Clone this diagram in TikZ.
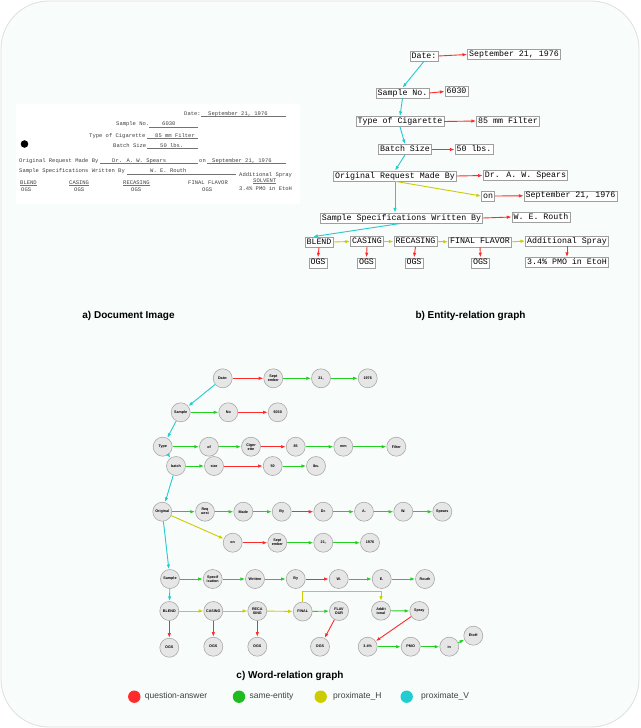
\documentclass[tikz,border=0pt]{standalone}
\usepackage{fontspec}
\setmainfont{Liberation Sans}
\newfontfamily\monof{Liberation Mono}
\usetikzlibrary{arrows.meta}
\definecolor{qred}{HTML}{FF2B2B}
\definecolor{qgreen}{HTML}{22D022}
\definecolor{qyellow}{HTML}{CCCC00}
\definecolor{qcyan}{HTML}{22CCD0}
\definecolor{bgmint}{HTML}{F8FCFB}
\definecolor{wnfill}{HTML}{E6E6E6}
\definecolor{wnline}{HTML}{A8A8A8}
\begin{document}
\begin{tikzpicture}[x=1pt,y=-1pt,
  erbox/.style={draw=gray!75, line width=0.6pt, fill=white, inner xsep=1.6pt, inner ysep=1.3pt,
    font=\monof\fontsize{8.3}{9}\selectfont, text height=5.8pt, text depth=1.6pt},
  wn/.style={circle, draw=wnline, fill=wnfill, line width=0.6pt, minimum size=19pt, inner sep=0pt,
    font=\bfseries\fontsize{3.7}{4}\selectfont, align=center},
  ar/.style={-{Latex[length=4.8pt,width=3.4pt]}, line width=0.9pt},
  qa/.style={ar, qred}, se/.style={ar, qgreen}, ph/.style={ar, qyellow}, pv/.style={ar, qcyan},
  doct/.style={anchor=base west, inner sep=0pt, font=\monof\fontsize{5.5}{6}\selectfont, text=black!75},
  docl/.style={black!55, line width=0.4pt},
  captxt/.style={font=\bfseries\fontsize{10}{12}\selectfont},
  legt/.style={anchor=west, font=\fontsize{8.5}{10}\selectfont, text=black!75}
]
\useasboundingbox (0,0) rectangle (640,728);
\fill[white] (0,0) rectangle (640,728);
\draw[draw=gray!25, fill=bgmint, line width=0.8pt, rounded corners=48pt] (1,1) rectangle (639,727);

% ---------------- a) Document image ----------------
\fill[white] (16,104) rectangle (300,204);
\node[doct] (d1) at (184,115) {Date:};
\draw[docl] (201,116.5) -- (286,116.5);
\node[doct] (d1v) at (208,115) {September 21, 1976};
\node[doct] (d2) at (116,125.5) {Sample No.};
\draw[docl] (149,127) -- (198,127);
\node[doct] (d2v) at (162,125.5) {6030};
\node[doct] (d3) at (89,137) {Type of Cigarette};
\draw[docl] (147,138.5) -- (198,138.5);
\node[doct] (d3v) at (155,137) {85 mm Filter};
\node[doct] (d4) at (113,147) {Batch Size};
\draw[docl] (147,148.5) -- (198,148.5);
\node[doct] (d4v) at (160,147) {50 lbs.};
\fill[black] (24.5,144) circle (3.8);
\node[doct] (d5) at (19,162) {Original Request Made By};
\draw[docl] (100,163.5) -- (198,163.5);
\node[doct] (d5v) at (112,162) {Dr. A. W. Spears};
\node[doct] (d5o) at (199,162) {on};
\draw[docl] (207,163.5) -- (286,163.5);
\node[doct] (d5w) at (212,162) {September 21, 1976};
\node[doct] (d6) at (19,172.5) {Sample Specifications Written By};
\draw[docl] (127,174) -- (236,174);
\node[doct] (d6v) at (150,172.5) {W. E. Routh};
\node[doct] (d7) at (239,176) {Additional Spray};
\node[doct] (b1) at (20,184) {BLEND};
\draw[docl] (20,185.5) -- (36.5,185.5);
\node[doct] (b2) at (69,184) {CASING};
\draw[docl] (69,185.5) -- (89,185.5);
\node[doct] (b3) at (123,184) {RECASING};
\draw[docl] (123,185.5) -- (150,185.5);
\node[doct] (b4) at (188,184) {FINAL FLAVOR};
\node[doct] (b5) at (253,182) {SOLVENT};
\draw[docl] (253,183.5) -- (276,183.5);
\node[doct] (o1) at (21,191.5) {OGS};
\node[doct] (o2) at (74,191.5) {OGS};
\node[doct] (o3) at (131,191.5) {OGS};
\node[doct] (o4) at (202,191.5) {OGS};
\node[doct] (o5) at (239,190.5) {3.4\% PMO in EtoH};

\node[captxt] (capa) at (128.5,316) {a) Document Image};
\node[captxt] (capb) at (470.5,316) {b) Entity-relation graph};
\node[captxt] (capc) at (290,676) {c) Word-relation graph};

% ---------------- b) Entity-relation graph ----------------
\node[erbox] (eDate) at (424,56) {Date:};
\node[erbox] (eSept1) at (514,54.5) {September 21, 1976};
\node[erbox] (eSampleNo) at (402.5,93) {Sample No.};
\node[erbox] (e6030) at (456.5,91.5) {6030};
\node[erbox] (eType) at (400,121.5) {Type of Cigarette};
\node[erbox] (e85) at (508,121) {85 mm Filter};
\node[erbox] (eBatch) at (405,149.5) {Batch Size};
\node[erbox] (e50) at (474,149.5) {50 lbs.};
\node[erbox] (eOrig) at (395,176) {Original Request Made By};
\node[erbox] (eSpears) at (525.5,175.5) {Dr. A. W. Spears};
\node[erbox] (eOn) at (488,196) {on};
\node[erbox] (eSept2) at (570.5,195.8) {September 21, 1976};
\node[erbox] (eSpec) at (401.5,218) {Sample Specifications Written By};
\node[erbox] (eRouth) at (541,217) {W. E. Routh};
\node[erbox] (eBlend) at (319,242) {BLEND};
\node[erbox] (eCasing) at (367,241.5) {CASING};
\node[erbox] (eRecasing) at (415.5,241.5) {RECASING};
\node[erbox] (eFinal) at (480,241.8) {FINAL FLAVOR};
\node[erbox] (eAddit) at (567,241) {Additional Spray};
\node[erbox] (eOgs1) at (318,262.8) {OGS};
\node[erbox] (eOgs2) at (366.5,262.8) {OGS};
\node[erbox] (eOgs3) at (414,262.8) {OGS};
\node[erbox] (eOgs4) at (480.5,262.8) {OGS};
\node[erbox] (ePmo) at (567,262.5) {3.4\% PMO in EtoH};

\draw[qa] (eDate.east) -- (eSept1.west);
\draw[qa] (eSampleNo.east) -- (e6030.west);
\draw[qa] (eType.east) -- (e85.west);
\draw[qa] (eBatch.east) -- (e50.west);
\draw[qa] (eOrig.east) -- (eSpears.west);
\draw[qa] (eOn.east) -- (eSept2.west);
\draw[qa] (eSpec.east) -- (eRouth.west);
\draw[pv] (eDate.south) -- (eSampleNo.north);
\draw[pv] (eSampleNo.south) -- (eType.north);
\draw[pv] (eType.south) -- (eBatch.north);
\draw[pv] (eBatch.south) -- (eOrig.north);
\draw[pv] (eOrig.south) -- (eOrig.south |- eSpec.north);
\draw[ph] (eOrig.south) -- (eOn.west);
\draw[pv] (eSpec.south) -- ([xshift=-6pt]eBlend.north);
\draw[ph] (eBlend.east) -- (eCasing.west);
\draw[ph] (eCasing.east) -- (eRecasing.west);
\draw[ph] (eRecasing.east) -- (eFinal.west);
\draw[ph] (eFinal.east) -- (eAddit.west);
\draw[qa] (eBlend.south) -- (eOgs1.north);
\draw[qa] (eCasing.south) -- (eOgs2.north);
\draw[qa] (eRecasing.south) -- (eOgs3.north);
\draw[qa] (eFinal.south) -- (eOgs4.north);
\draw[qa] (eAddit.south) -- (ePmo.north);

% ---------------- c) Word-relation graph ----------------
\node[wn] (wDate) at (222.7,378.3) {Date:};
\node[wn] (wSept1) at (273.3,378.3) {Sept\\ember};
\node[wn] (w21a) at (321,378.3) {21,};
\node[wn] (w1976a) at (367.7,378.3) {1976};
\node[wn] (wSample1) at (180.7,412.3) {Sample};
\node[wn] (wNo) at (228.3,412.3) {No};
\node[wn] (w6030) at (277.7,412.3) {6030};
\node[wn] (wType) at (162.7,446.7) {Type};
\node[wn] (wOf) at (209,446.7) {of};
\node[wn] (wCig) at (251,446.7) {Ciger\\ette};
\node[wn] (w85) at (295.7,446.7) {85};
\node[wn] (wmm) at (343.3,446.7) {mm};
\node[wn] (wFilter) at (396.3,446.7) {Filter};
\node[wn] (wBatch) at (176,466) {batch};
\node[wn] (wSize) at (214,466) {size};
\node[wn] (w50) at (272.7,466) {50};
\node[wn] (wLbs) at (316,466) {lbs.};
\node[wn] (wOrig) at (162.3,511.7) {Original};
\node[wn] (wReq) at (205,511.7) {Req\\uest};
\node[wn] (wMade) at (243.3,511.7) {Made};
\node[wn] (wBy1) at (281.7,511.7) {By};
\node[wn] (wDr) at (323.3,511.7) {Dr.};
\node[wn] (wA) at (364,511.7) {A.};
\node[wn] (wW1) at (403.3,511.7) {W.};
\node[wn] (wSpears) at (442.3,511.7) {Spears};
\node[wn] (wOn) at (232.7,542.7) {on};
\node[wn] (wSept2) at (277.3,542.7) {Sept\\ember};
\node[wn] (w21b) at (323.3,542.7) {21,};
\node[wn] (w1976b) at (370,542.7) {1976};
\node[wn] (wSample2) at (170,579) {Sample};
\node[wn] (wSpec) at (212.7,579) {Specif\\ication};
\node[wn] (wWritten) at (255,579) {Written};
\node[wn] (wBy2) at (295.7,579) {By};
\node[wn] (wW2) at (338.7,579) {W.};
\node[wn] (wE) at (381.7,579) {E.};
\node[wn] (wRouth) at (425,579) {Routh};
\node[wn] (wBlend) at (169.3,611) {BLEND};
\node[wn] (wCasing) at (213.3,611) {CASING};
\node[wn] (wRecasing) at (257.3,611) {RECA\\SING};
\node[wn] (wFinal) at (302.7,611.5) {FINAL};
\node[wn] (wFlavour) at (339,611) {FLAV\\OUR};
\node[wn] (wAddit) at (381,610.7) {Addit\\ional};
\node[wn] (wSpray) at (419.3,611) {Spray};
\node[wn] (wEtoh) at (473.3,635.7) {EtoH};
\node[wn] (wOgs1) at (169.3,647.7) {OGS};
\node[wn] (wOgs2) at (213.3,646.7) {OGS};
\node[wn] (wOgs3) at (257.3,646.7) {OGS};
\node[wn] (wOgs4) at (320,646.7) {OGS};
\node[wn] (w34) at (367.7,646.7) {3.4\%};
\node[wn] (wPmo) at (410.7,646.7) {PMO};
\node[wn] (wIn) at (449.3,646.7) {in};

\draw[qa] (wDate) -- (wSept1);
\draw[se] (wSept1) -- (w21a);
\draw[se] (w21a) -- (w1976a);
\draw[pv] (wDate) -- (wSample1);
\draw[se] (wSample1) -- (wNo);
\draw[qa] (wNo) -- (w6030);
\draw[pv] (wSample1) -- (wType);
\draw[se] (wType) -- (wOf);
\draw[se] (wOf) -- (wCig);
\draw[qa] (wCig) -- (w85);
\draw[se] (w85) -- (wmm);
\draw[se] (wmm) -- (wFilter);
\draw[pv] (wType) -- (wBatch);
\draw[se] (wBatch) -- (wSize);
\draw[qa] (wSize) -- (w50);
\draw[se] (w50) -- (wLbs);
\draw[pv] (wBatch) -- (wOrig);
\draw[se] (wOrig) -- (wReq);
\draw[se] (wReq) -- (wMade);
\draw[se] (wMade) -- (wBy1);
\draw[qa] (wBy1) -- (wDr);
\draw[se] (wDr) -- (wA);
\draw[se] (wA) -- (wW1);
\draw[se] (wW1) -- (wSpears);
\draw[ph] (wOrig) -- (wOn);
\draw[qa] (wOn) -- (wSept2);
\draw[se] (wSept2) -- (w21b);
\draw[se] (w21b) -- (w1976b);
\draw[pv] (wOrig) -- (wSample2);
\draw[se] (wSample2) -- (wSpec);
\draw[se] (wSpec) -- (wWritten);
\draw[se] (wWritten) -- (wBy2);
\draw[qa] (wBy2) -- (wW2);
\draw[se] (wW2) -- (wE);
\draw[se] (wE) -- (wRouth);
\draw[pv] (wSample2) -- (wBlend);
\draw[ph] (wBlend) -- (wCasing);
\draw[ph] (wCasing) -- (wRecasing);
\draw[ph] (wRecasing) -- (wFinal);
\draw[se] (wFinal) -- (wFlavour);
\draw[ph] (wFinal.north) -- ++(0,-10) -| (wAddit.north);
\draw[se] (wAddit) -- (wSpray);
\draw[qa] (wBlend) -- (wOgs1);
\draw[qa] (wCasing) -- (wOgs2);
\draw[qa] (wRecasing) -- (wOgs3);
\draw[qa] (wFlavour) -- (wOgs4);
\draw[qa] (wSpray) -- (w34);
\draw[se] (w34) -- (wPmo);
\draw[se] (wPmo) -- (wIn);
\draw[se] (wIn) -- (wEtoh);

% ---------------- legend ----------------
\fill[qred] (134.3,696.7) circle (6.2) node[legt, right=7pt] (l1) {question-answer};
\fill[qgreen!90!black] (239,696.7) circle (6.2) node[legt, right=7pt] (l2) {same-entity};
\fill[qyellow] (320.7,696.7) circle (6.2) node[legt, right=9pt] (l3) {proximate\_H};
\fill[qcyan] (406.7,696.7) circle (6.2) node[legt, right=11pt] (l4) {proximate\_V};
\end{tikzpicture}
\end{document}
